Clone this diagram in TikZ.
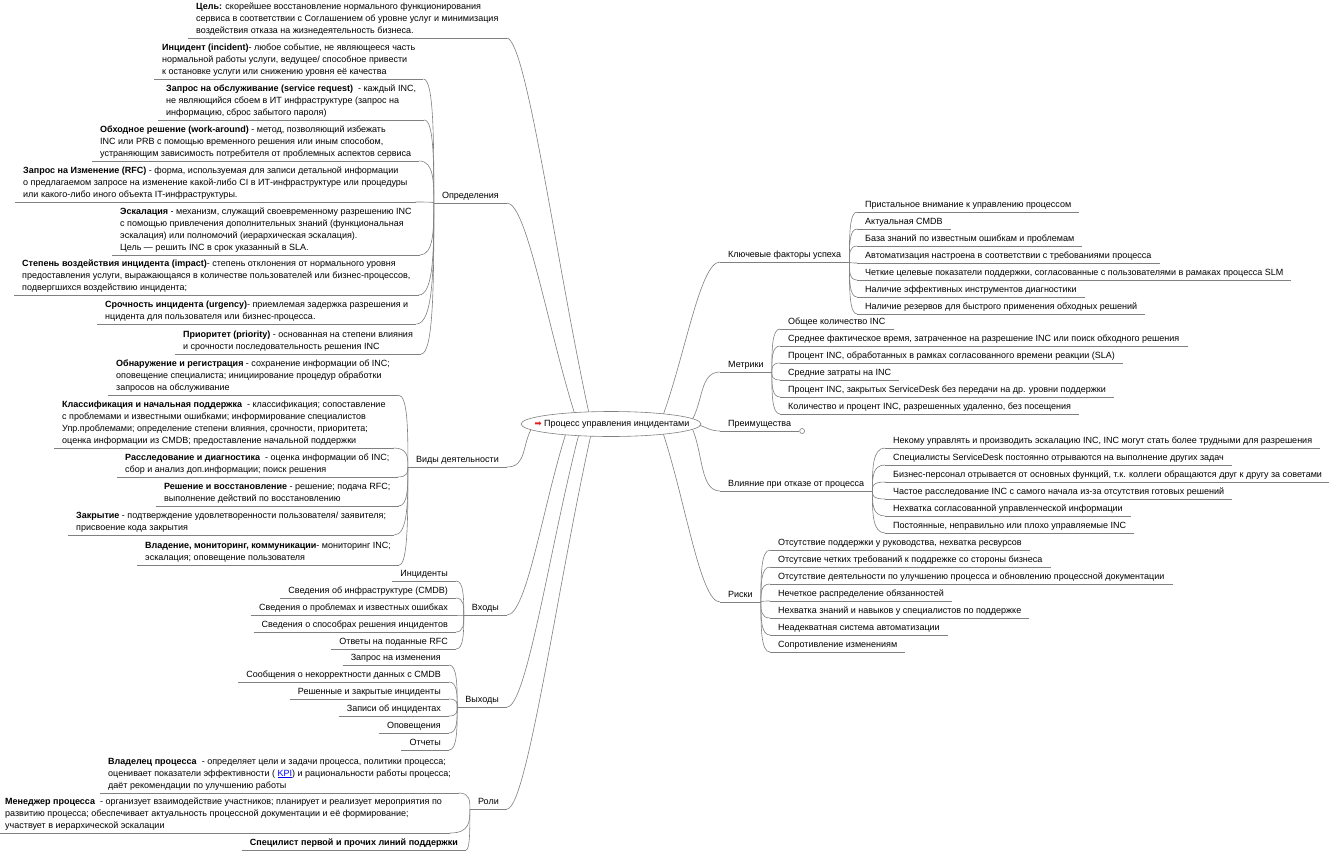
\documentclass[tikz,border=0pt]{standalone}
\usepackage{fontspec}
\setmainfont{Liberation Sans}
\newfontfamily\symfont{DejaVu Sans}
\usetikzlibrary{shapes.geometric,positioning,calc}

\definecolor{linegray}{RGB}{128,128,128}
\definecolor{arrowred}{RGB}{225,30,30}

\tikzset{
  topic/.style={inner xsep=8pt, inner ysep=1pt, align=left,
    font=\fontsize{9}{12}\selectfont, execute at end node=\strut},
  conn/.style={draw=linegray, line width=0.6pt},
  sublink/.style={to path={.. controls ($(\tikztostart)!0.5!(\tikztostart|-\tikztotarget)$)
    and (\tikztostart|-\tikztotarget) .. (\tikztotarget) \tikztonodes}},
  mainlink/.style={to path={.. controls ($(\tikztostart)!0.4!(\tikztotarget)$)
    and ($(\tikztotarget)+(#1,0)$) .. (\tikztotarget) \tikztonodes}},
  mainlink/.default=-20,
  rootshape/.style={draw=linegray, fill=white, line width=0.6pt},
  root/.style={inner sep=0pt, font=\fontsize{9}{12}\selectfont}
}

\begin{document}
\begin{tikzpicture}[x=1pt, y=-1pt]
	\path[use as bounding box, fill=white] (0,0) rectangle (1329,851);
	\coordinate (c) at (611,424);

	% left side
	\node[topic, anchor=south west] (goal) at (188,38) {\textbf{Цель:} скорейшее восстановление нормального функционирования\\сервиса в соответствии с Соглашением об уровне услуг и минимизация\\воздействия отказа на жизнедеятельность бизнеса.};
	\node[topic, anchor=south east] (def) at (507,203) {Определения};
	\node[topic, anchor=south east] (act) at (507,467) {Виды деятельности};
	\node[topic, anchor=south east] (inp) at (507,615) {Входы};
	\node[topic, anchor=south east] (outp) at (507,707) {Выходы};
	\node[topic, anchor=south east] (role) at (507,809) {Роли};

	% definitions
	\node[topic, anchor=south west] (inc) at (154,79) {\textbf{Инцидент (incident)}- любое событие, не являющееся часть\\нормальной работы услуги, ведущее/ способное привести\\к остановке услуги или снижению уровня её качества};
	\node[topic, anchor=south west] (sreq) at (158,120) {\textbf{Запрос на обслуживание (service request)}\ \ - каждый INC,\\не являющийся сбоем в ИТ инфраструктуре (запрос на\\информацию, сброс забытого пароля)};
	\node[topic, anchor=south west] (wa) at (92,161) {\textbf{Обходное решение (work-around)} - метод, позволяющий избежать\\INC или PRB с помощью временного решения или иным способом,\\устраняющим зависимость потребителя от проблемных аспектов сервиса};
	\node[topic, anchor=south west] (rfc) at (15,202) {\textbf{Запрос на Изменение (RFC)} - форма, используемая для записи детальной информации\\о предлагаемом запросе на изменение какой-либо CI в ИТ-инфраструктуре или процедуры\\или какого-либо иного объекта IT-инфраструктуры.};
	\node[topic, anchor=south west] (esc) at (112,255) {\textbf{Эскалация} - механизм, служащий своевременному разрешению INC\\с помощью привлечения дополнительных знаний (функциональная\\эскалация) или полномочий (иерархическая эскалация).\\Цель — решить INC в срок указанный в SLA.};
	\node[topic, anchor=south west] (imp) at (14,295) {\textbf{Степень воздействия инцидента (impact)}- степень отклонения от нормального уровня\\предоставления услуги, выражающаяся в количестве пользователей или бизнес-процессов,\\подвергшихся воздействию инцидента;};
	\node[topic, anchor=south west] (urg) at (97,324) {\textbf{Срочность инцидента (urgency)}- приемлемая задержка разрешения и\\нцидента для пользователя или бизнес-процесса.};
	\node[topic, anchor=south west] (prio) at (175,354) {\textbf{Приоритет (priority)} - основанная на степени влияния\\и срочности последовательность решения INC};

	% activities
	\node[topic, anchor=south west] (det) at (108,395) {\textbf{Обнаружение и регистрация} - сохранение информации об INC;\\оповещение специалиста; инициирование процедур обработки\\запросов на обслуживание};
	\node[topic, anchor=south west] (cls) at (54,448) {\textbf{Классификация и начальная поддержка}\ \ - классификация; сопоставление\\с проблемами и известными ошибками; информирование специалистов\\Упр.проблемами; определение степени влияния, срочности, приоритета;\\оценка информации из CMDB; предоставление начальной поддержки};
	\node[topic, anchor=south west] (inv) at (117,477) {\textbf{Расследование и диагностика}\ \ - оценка информации об INC;\\сбор и анализ доп.информации; поиск решения};
	\node[topic, anchor=south west] (res) at (156,506) {\textbf{Решение и восстановление} - решение; подача RFC;\\выполнение действий по восстановлению};
	\node[topic, anchor=south west] (clo) at (68,535) {\textbf{Закрытие} - подтверждение удовлетворенности пользователя/ заявителя;\\присвоение кода закрытия};
	\node[topic, anchor=south west] (own) at (137,565) {\textbf{Владение, мониторинг, коммуникации}- мониторинг INC;\\эскалация; оповещение пользователя};

	% inputs and outputs
	\foreach \t [count=\i] in {Инциденты, Сведения об инфраструктуре (CMDB), Сведения о проблемах и известных ошибках, Сведения о способрах решения инцидентов, Ответы на поданные RFC}
		\node[topic, anchor=south east] (inp\i) at (456,{564+17*\i}) {\t};
	\foreach \t [count=\i] in {Запрос на изменения, Сообщения о некорректности данных с CMDB, Решенные и закрытые инциденты, Записи об инцидентах, Оповещения, Отчеты}
		\node[topic, anchor=south east] (outp\i) at (449,{648+17*\i}) {\t};

	% roles
	\node[topic, anchor=south west] (po) at (100,793) {\textbf{Владелец процесса}\ \ - определяет цели и задачи процесса, политики процесса;\\оценивает показатели эффективности ( \textcolor{blue}{\underline{KPI}}) и рациональности работы процесса;\\даёт рекомендации по улучшению работы};
	\node[topic, anchor=south west] (pm) at (-3,833) {\textbf{Менеджер процесса}\ \ - организует взаимодействие участников; планирует и реализует мероприятия по\\развитию процесса; обеспечивает актуальность процессной документации и её формирование;\\участвует в иерархической эскалации};
	\node[topic, anchor=south east] (spec) at (466,850) {\textbf{Специлист первой и прочих линий поддержки}};

	% right side
	\node[topic, anchor=south west] (kf) at (720,262) {Ключевые факторы успеха};
	\node[topic, anchor=south west] (met) at (720,372) {Метрики};
	\node[topic, anchor=south west] (adv) at (720,431) {Преимущества};
	\node[topic, anchor=south west] (fail) at (720,491) {Влияние при отказе от процесса};
	\node[topic, anchor=south west] (risk) at (720,602) {Риски};
	\node[circle, draw=linegray, line width=0.6pt, inner sep=0pt, minimum size=5pt, anchor=west] (advc) at (adv.south east) {};

	\foreach \t [count=\i] in {Пристальное внимание к управлению процессом, Актуальная CMDB, База знаний по известным ошибкам и проблемам, Автоматизация настроена в соответствии с требованиями процесса, {Четкие целевые показатели поддержки, согласованные с пользователями в рамаках процесса SLM}, Наличие эффективных инструментов диагностики, Наличие резервов для быстрого применения обходных решений}
		\node[topic, anchor=south west] (kf\i) at (857,{195+17*\i}) {\t};
	\foreach \t [count=\i] in {Общее количество INC, {Среднее фактическое время, затраченное на разрешение INC или поиск обходного решения}, {Процент INC, обработанных в рамках согласованного времени реакции (SLA)}, Средние затраты на INC, {Процент INC, закрытых ServiceDesk без передачи на др. уровни поддержки}, {Количество и процент INC, разрешенных удаленно, без посещения}}
		\node[topic, anchor=south west] (met\i) at (780,{312+17*\i}) {\t};
	\foreach \t [count=\i] in {{Некому управлять и производить эскалацию INC, INC могут стать более трудными для разрешения}, Специалисты ServiceDesk постоянно отрываются на выполнение других задач, {Бизнес-персонал отрывается от основных функций, т.к. коллеги обращаются друг к другу за советами}, Частое расследование INC с самого начала из-за отсутствия готовых решений, Нехватка согласованной управленческой информации, {Постоянные, неправильно или плохо управляемые INC}}
		\node[topic, anchor=south west] (fail\i) at (885,{431+17*\i}) {\t};
	\foreach \t [count=\i] in {{Отсутствие поддержки у руководства, нехватка ресвурсов}, Отсутсвие четких требований к поддрежке со стороны бизнеса, Отсутствие деятельности по улучшению процесса и обновлению процессной документации, Нечеткое распределение обязанностей, Нехватка знаний и навыков у специалистов по поддержке, Неадекватная система автоматизации, Сопротивление изменениям}
		\node[topic, anchor=south west] (risk\i) at (770,{533+17*\i}) {\t};

	% underlines
	\foreach \n in {goal,def,act,inp,outp,role,inc,sreq,wa,rfc,esc,imp,urg,prio,det,cls,inv,res,clo,own,po,pm,spec,kf,met,adv,fail,risk,
		inp1,inp2,inp3,inp4,inp5,outp1,outp2,outp3,outp4,outp5,outp6}
		\draw[conn] (\n.south west) -- (\n.south east);
	\foreach \n/\k in {kf/7,met/6,fail/6,risk/7}
		\foreach \i in {1,...,\k}
			\draw[conn] (\n\i.south west) -- (\n\i.south east);

	% branches of the right side
	\foreach \n/\k in {kf/7,met/6,fail/6,risk/7}
		\foreach \i in {1,...,\k}
			\draw[conn] (\n.south east) to[sublink] (\n\i.south west);
	% branches of the left side
	\foreach \n in {inc,sreq,wa,rfc,esc,imp,urg,prio}
		\draw[conn] (def.south west) to[sublink] (\n.south east);
	\foreach \n in {det,cls,inv,res,clo,own}
		\draw[conn] (act.south west) to[sublink] (\n.south east);
	\foreach \i in {1,...,5}
		\draw[conn] (inp.south west) to[sublink] (inp\i.south east);
	\foreach \i in {1,...,6}
		\draw[conn] (outp.south west) to[sublink] (outp\i.south east);
	\foreach \n in {po,pm,spec}
		\draw[conn] (role.south west) to[sublink] (\n.south east);

	% main branches from the centre
	\coordinate (rs1) at ($(c)+(-21,-6)$);
	\coordinate (rs2) at ($(c)+(-35,-6)$);
	\coordinate (rs3) at ($(c)+(-79,4)$);
	\coordinate (rs4) at ($(c)+(-44,6)$);
	\coordinate (rs5) at ($(c)+(-31,6)$);
	\coordinate (rs6) at ($(c)+(-19,6)$);
	\coordinate (rs7) at ($(c)+(51,-6)$);
	\coordinate (rs8) at ($(c)+(81,-4)$);
	\coordinate (rs9) at ($(c)+(85,0)$);
	\coordinate (rs10) at ($(c)+(81,4)$);
	\coordinate (rs11) at ($(c)+(51,6)$);
	\draw[conn] (rs1) to[mainlink=20] (goal.south east);
	\draw[conn] (rs2) to[mainlink=20] (def.south east);
	\draw[conn] (rs3) to[mainlink=20] (act.south east);
	\draw[conn] (rs4) to[mainlink=20] (inp.south east);
	\draw[conn] (rs5) to[mainlink=20] (outp.south east);
	\draw[conn] (rs6) to[mainlink=20] (role.south east);
	\draw[conn] (rs7) to[mainlink] (kf.south west);
	\draw[conn] (rs8) to[mainlink] (met.south west);
	\draw[conn] (rs9) to[mainlink=-10] (adv.south west);
	\draw[conn] (rs10) to[mainlink] (fail.south west);
	\draw[conn] (rs11) to[mainlink] (risk.south west);

	\draw[rootshape] (c) ellipse [x radius=90, y radius=12.5];
	\node[root] (root) at ($(c)+(1,0)$) {{\symfont\fontsize{8.5}{9}\selectfont\color{arrowred}➡}\ Процесс управления инцидентами};
\end{tikzpicture}
\end{document}
